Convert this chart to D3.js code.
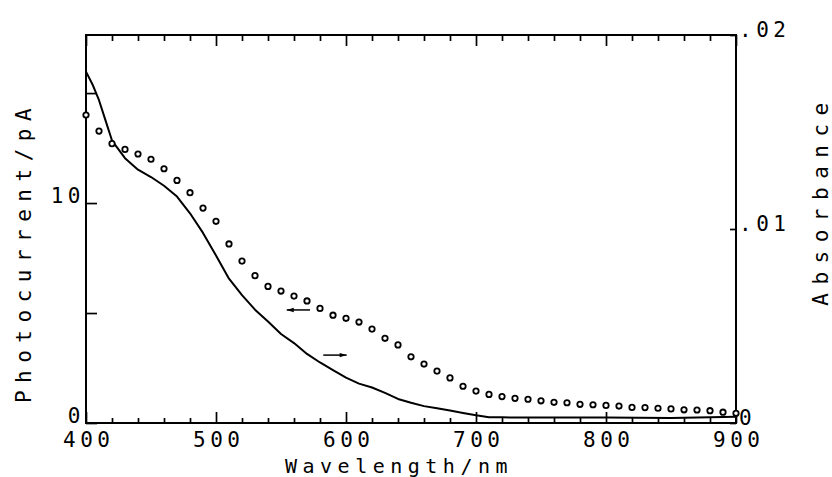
<!DOCTYPE html>
<html>
<head>
<meta charset="utf-8">
<script src="https://cdn.jsdelivr.net/npm/d3@7/dist/d3.min.js"></script>
<style>
  html, body { margin: 0; padding: 0; background: #fff; }
  svg { display: block; }
  text { font-family: "DejaVu Sans Mono", "Liberation Mono", monospace; fill: #000; }
</style>
</head>
<body>
<div id="chart"></div>
<script>
// ---- data ----
const pcWavelength = [400,410,420,430,440,450,460,470,480,490,500,510,520,530,540,550,560,570,580,590,600,610,620,630,640,650,660,670,680,690,700,710,720,730,740,750,760,770,780,790,800,810,820,830,840,850,860,870,880,890,900];
const photocurrent = [14.0,13.27,12.7,12.44,12.23,11.99,11.56,11.03,10.47,9.77,9.17,8.14,7.36,6.70,6.21,6.00,5.77,5.55,5.21,4.90,4.76,4.59,4.27,3.85,3.55,3.01,2.68,2.36,2.05,1.67,1.45,1.30,1.20,1.12,1.08,1.01,0.94,0.92,0.85,0.83,0.80,0.77,0.71,0.70,0.67,0.64,0.60,0.59,0.56,0.49,0.44];

const absWavelength = [400,405,410,415,420,430,440,450,460,470,480,490,500,510,520,530,540,550,560,570,580,590,600,610,620,630,640,650,660,670,680,690,700,710,720,760,800,850,900];
const absorbance = [0.01811,0.01745,0.01664,0.01560,0.01456,0.01365,0.01306,0.01268,0.01223,0.01167,0.01081,0.00980,0.00864,0.00744,0.00659,0.00584,0.00523,0.00459,0.00412,0.00356,0.00312,0.00273,0.00234,0.00203,0.00183,0.00155,0.00124,0.00104,0.00087,0.00076,0.00064,0.00052,0.00040,0.00030,0.00029,0.00028,0.00028,0.00026,0.00032];

const xDomain = [400, 900];
const xMajorTicks = [400, 500, 600, 700, 800, 900];
const xMinorTicks = [420,440,460,480,520,540,560,580,620,640,660,680,720,740,760,780,820,840,860,880];
const leftDomain = [0, 17.64];
const leftTicks = [0, 5, 10, 15];
const leftTickLabels = ["0", "", "10", ""];
const rightDomain = [0, 0.02];
const rightTicks = [0, 0.01, 0.02];
const rightTickLabels = ["0", ".01", ".02"];

// arrows: left arrow refers to left axis, right arrow to right axis
const leftArrow = { from: 572.3, to: 554.4, value: 5.14 };
const rightArrow = { from: 582.5, to: 600.5, value: 0.0035 };

const xTitle = "Wavelength/nm";
const leftTitle = "Photocurrent/pA";
const rightTitle = "Absorbance";

// ---- layout ----
const W = 832, H = 477;
const L = 86, R = 736, T = 35, B = 423;

const svg = d3.select("#chart").append("svg").attr("width", W).attr("height", H);
svg.append("rect").attr("width", W).attr("height", H).attr("fill", "#fff");

const x = d3.scaleLinear().domain(xDomain).range([L, R]);
const yL = d3.scaleLinear().domain(leftDomain).range([B, T]);
const yR = d3.scaleLinear().domain(rightDomain).range([B, T]);

const fs = 21, ls = 4.5;

function styleAxis(g) {
  g.select(".domain").remove();
  g.selectAll(".tick line").attr("stroke", "#000").attr("stroke-width", 1.7);
  g.selectAll("text").attr("font-size", fs).attr("letter-spacing", ls)
    .attr("font-family", "DejaVu Sans Mono").attr("fill", "#000");
}

// bottom axis
const gB = svg.append("g").attr("transform", `translate(0,${B})`)
  .call(d3.axisBottom(x).tickValues(xMajorTicks).tickSizeInner(-11).tickSizeOuter(0).tickPadding(9).tickFormat(d3.format("d")));
styleAxis(gB);
gB.selectAll("text").attr("dx", ls / 2);
svg.append("g").attr("transform", `translate(0,${B})`)
  .call(d3.axisBottom(x).tickValues(xMinorTicks).tickSizeInner(-5).tickSizeOuter(0).tickFormat(""))
  .call(styleAxis);

// top axis
svg.append("g").attr("transform", `translate(0,${T})`)
  .call(d3.axisTop(x).tickValues(xMajorTicks).tickSizeInner(-11).tickSizeOuter(0).tickFormat(""))
  .call(styleAxis);
svg.append("g").attr("transform", `translate(0,${T})`)
  .call(d3.axisTop(x).tickValues(xMinorTicks).tickSizeInner(-6).tickSizeOuter(0).tickFormat(""))
  .call(styleAxis);

// left axis
const gL = svg.append("g").attr("transform", `translate(${L},0)`)
  .call(d3.axisLeft(yL).tickValues(leftTicks).tickSizeInner(-11).tickSizeOuter(0).tickPadding(1)
    .tickFormat((d, i) => leftTickLabels[i]));
styleAxis(gL);
gL.selectAll("text").attr("dy", "-0.02em");

// right axis
const gR = svg.append("g").attr("transform", `translate(${R},0)`)
  .call(d3.axisRight(yR).tickValues(rightTicks).tickSizeInner(-6).tickSizeOuter(0).tickPadding(3)
    .tickFormat((d, i) => rightTickLabels[i]));
styleAxis(gR);
gR.selectAll("text").attr("dy", "0.05em");

// frame
svg.append("rect").attr("x", L).attr("y", T).attr("width", R - L).attr("height", B - T)
  .attr("fill", "none").attr("stroke", "#000").attr("stroke-width", 2);

// absorbance line
const line = d3.line().x((d, i) => x(absWavelength[i])).y(d => yR(d));
svg.append("path").datum(absorbance).attr("d", line)
  .attr("fill", "none").attr("stroke", "#000").attr("stroke-width", 2).attr("stroke-linejoin", "round");

// photocurrent circles
svg.append("g").selectAll("circle").data(photocurrent).join("circle")
  .attr("cx", (d, i) => x(pcWavelength[i])).attr("cy", d => yL(d))
  .attr("r", 2.7).attr("fill", "#fff").attr("stroke", "#000").attr("stroke-width", 1.8);

// arrows
function arrow(x1, x2, yy) {
  const dir = Math.sign(x2 - x1);
  svg.append("line").attr("x1", x1).attr("x2", x2).attr("y1", yy).attr("y2", yy)
    .attr("stroke", "#000").attr("stroke-width", 1.5);
  svg.append("path")
    .attr("d", `M${x2},${yy} L${x2 - dir * 7},${yy - 2.2} L${x2 - dir * 7},${yy + 2.2} Z`)
    .attr("fill", "#000");
}
arrow(x(leftArrow.from), x(leftArrow.to), yL(leftArrow.value));
arrow(x(rightArrow.from), x(rightArrow.to), yR(rightArrow.value));

// titles
svg.append("text").attr("x", (L + R) / 2 - 12).attr("y", 473)
  .attr("text-anchor", "middle").attr("font-size", 20).attr("letter-spacing", 5.5).text(xTitle);
svg.append("text").attr("transform", "translate(31,252) rotate(-90)")
  .attr("text-anchor", "middle").attr("font-size", 21).attr("letter-spacing", 7.5).text(leftTitle);
svg.append("text").attr("transform", "translate(828,200) rotate(-90)")
  .attr("text-anchor", "middle").attr("font-size", 21).attr("letter-spacing", 8.5).text(rightTitle);
</script>
</body>
</html>
